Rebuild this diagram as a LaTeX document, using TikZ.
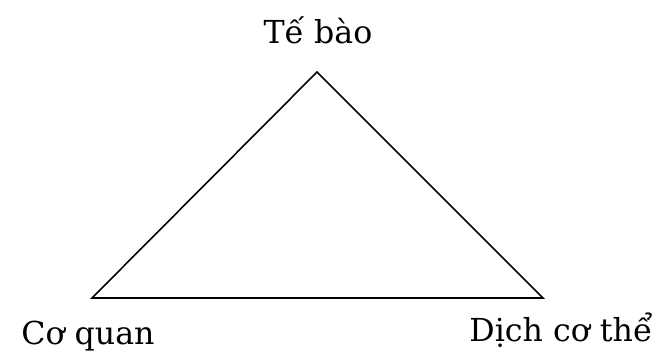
\documentclass[tikz,border=0pt]{standalone}
\usepackage{fontspec}
\setmainfont{DejaVu Serif}
\usetikzlibrary{positioning}

\begin{document}
\begin{tikzpicture}[x=0.01cm,y=-0.01cm,font=\fontsize{9}{11}\selectfont,node distance=6mm]
        \useasboundingbox (0,0) rectangle (656,353);
        \coordinate (top) at (317,72);
        \coordinate (left) at (92,298);
        \coordinate (right) at (543,298);
        \node[inner sep=0pt] (tb) at (318,30) {Tế bào};
        \node[inner sep=0pt] (cq) at (88,336) {Cơ quan};
        \node[inner sep=0pt] (dct) at (561,330) {Dịch cơ thể};
        \draw[line width=0.45pt] (top)--(left)--(right)--cycle;
      \end{tikzpicture}
\end{document}
